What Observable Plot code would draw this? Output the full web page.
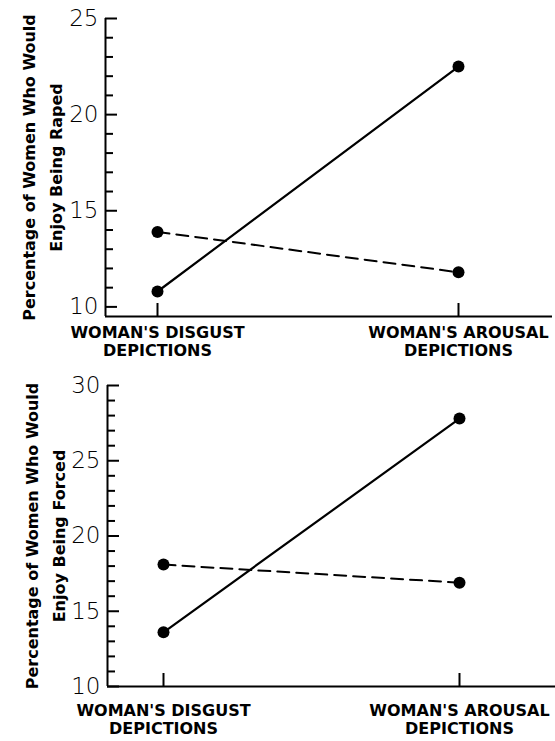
<!DOCTYPE html>
<html><head><meta charset="utf-8">
<script src="https://cdn.jsdelivr.net/npm/d3@7"></script>
<script src="https://cdn.jsdelivr.net/npm/@observablehq/plot@0.6"></script>
<style>body{margin:0;background:#fff} #chart svg{display:block}</style>
</head><body><div id="chart"></div>
<script>
const categories = ["WOMAN'S DISGUST\nDEPICTIONS", "WOMAN'S AROUSAL\nDEPICTIONS"];
const conditionIndex = [0, 1];
const rapedSolid = [10.8, 22.5];
const rapedDashed = [13.9, 11.8];
const forcedSolid = [13.6, 27.8];
const forcedDashed = [18.1, 16.9];
const rapedTitle = "Percentage of Women Who Would\nEnjoy Being Raped";
const forcedTitle = "Percentage of Women Who Would\nEnjoy Being Forced";
const rapedMajorTicks = [10, 15, 20, 25];
const forcedMajorTicks = [10, 15, 20, 25, 30];

function panel(o) {
  const W = 555;
  const rows = (vals) => vals.map((v, i) => ({x: conditionIndex[i], y: v}));
  const solidRows = rows(o.solid), dashedRows = rows(o.dashed);
  const minor = d3.range(Math.ceil(o.yDomain[0]), o.yDomain[1] + 1).filter(v => !o.majorTicks.includes(v));
  const frameW = W - o.marginLeft - o.marginRight;
  const frameH = o.height - o.marginTop - o.marginBottom;
  return Plot.plot({
    width: W, height: o.height,
    marginTop: o.marginTop, marginBottom: o.marginBottom,
    marginLeft: o.marginLeft, marginRight: o.marginRight,
    style: {fontFamily: "DejaVu Sans", background: "#fff", color: "#000", overflow: "visible"},
    x: {domain: o.xDomain, label: null},
    y: {domain: o.yDomain, label: null},
    marks: [
      // inward-pointing ticks on the y axis
      Plot.tickY(minor, {y: d => d, insetRight: frameW - 8, strokeWidth: 2}),
      Plot.tickY(o.majorTicks, {y: d => d, insetRight: frameW - 12, strokeWidth: 2}),
      // inward-pointing ticks on the x axis
      Plot.tickX(conditionIndex, {x: d => d, insetTop: frameH - 13, strokeWidth: 2}),
      Plot.axisY({ticks: o.majorTicks, tickSize: 0, tickPadding: 7, label: null,
        fontSize: 23, fontWeight: 200}),
      Plot.axisX({ticks: conditionIndex, tickSize: 0, tickPadding: o.labelPad, label: null,
        tickFormat: i => categories[i], fontSize: 16, fontWeight: "bold", lineHeight: 1.12}),
      Plot.ruleY([o.yDomain[0]], {strokeWidth: 2}),
      Plot.ruleX([o.xDomain[0]], {strokeWidth: 2}),
      Plot.text([o.title], {text: d => d, frameAnchor: "left", dx: o.titleDx, rotate: -90,
        fontSize: 16, fontWeight: "bold", lineHeight: 1.7, textAnchor: "middle"}),
      Plot.line(solidRows, {x: "x", y: "y", strokeWidth: 2.2}),
      Plot.line(dashedRows, {x: "x", y: "y", strokeWidth: 2, strokeDasharray: "12,7"}),
      Plot.dot(solidRows.concat(dashedRows), {x: "x", y: "y", r: 6, fill: "black"})
    ]
  });
}

const chart = document.getElementById("chart");
chart.append(panel({
  solid: rapedSolid, dashed: rapedDashed, title: rapedTitle,
  yDomain: [9.5, 25], majorTicks: rapedMajorTicks,
  height: 362, marginTop: 18, marginBottom: 46, marginLeft: 105, marginRight: 3,
  xDomain: [-52 / 301, 1 + 94 / 301], labelPad: 9, titleDx: -66
}));
chart.append(panel({
  solid: forcedSolid, dashed: forcedDashed, title: forcedTitle,
  yDomain: [10, 30], majorTicks: forcedMajorTicks,
  height: 379, marginTop: 23, marginBottom: 55, marginLeft: 107, marginRight: 0,
  xDomain: [-56 / 296, 1 + 96 / 296], labelPad: 17, titleDx: -64.5
}));
</script>
</body></html>
